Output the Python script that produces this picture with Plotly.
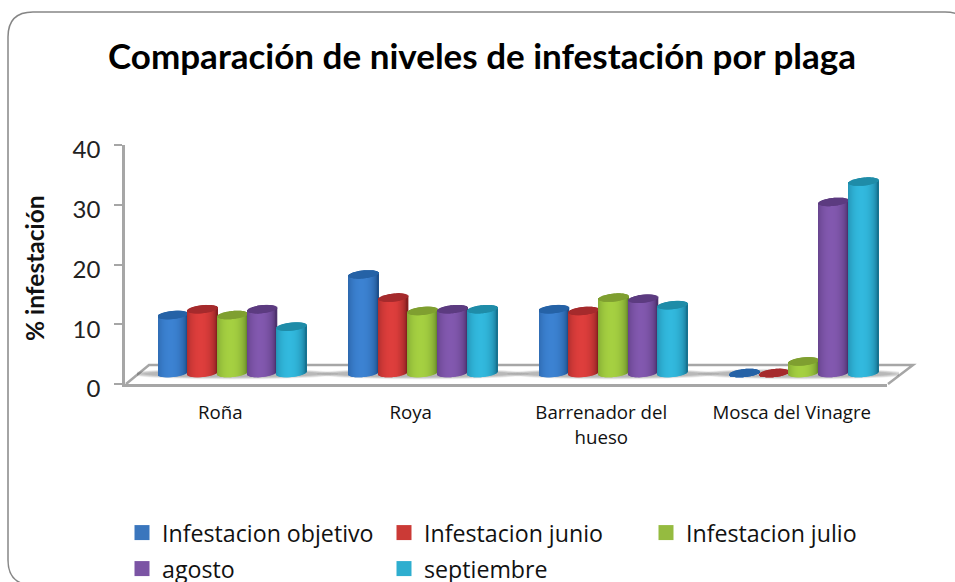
import math
import plotly.graph_objects as go

W, H = 955, 582
TITLE = "Comparación de niveles de infestación por plaga"
Y_TITLE = "% infestación"
CATEGORIES = ["Roña", "Roya", "Barrenador del<br>hueso", "Mosca del Vinagre"]
SERIES = ["Infestacion objetivo", "Infestacion junio", "Infestacion julio", "agosto", "septiembre"]
OBJETIVO = [10, 17, 11, 0]
JUNIO = [11, 13, 10.7, 0]
JULIO = [10, 10.7, 13, 2]
AGOSTO = [11, 11, 12.8, 29.5]
SEPTIEMBRE = [8, 11, 11.7, 33]
VALUES = [OBJETIVO, JUNIO, JULIO, AGOSTO, SEPTIEMBRE]
MID = ["#3a76bd", "#cb3a36", "#95bb40", "#7b54a4", "#2eaecf"]
CENTER = [(60, 130, 210), (222, 62, 60), (165, 208, 65), (130, 88, 175), (50, 185, 222)]
EDGE = [(30, 80, 140), (135, 32, 32), (105, 140, 42), (78, 50, 110), (22, 115, 145)]
CAP = ["#2562a6", "#a52a2c", "#7f9f30", "#5c3b80", "#1f8ca8"]

PX_UNIT = 5.8          # pixels per value on the bar axis
CAP_H = 4 / PX_UNIT    # half height of a cylinder's end ellipse
TILT = 1.5 / PX_UNIT   # slope of the ellipse
STEP = 29.7 / 190.5    # cylinder width in category units
N = 30


def px(x):
    return x / W


def py(y):
    return 1 - y / H


def rgb(c):
    return f"rgb({c[0]:.0f},{c[1]:.0f},{c[2]:.0f})"


fig = go.Figure()

# Cylinders are built out of narrow bars so that they carry horizontal shading.
for i, (name, vals) in enumerate(zip(SERIES, VALUES)):
    for k in range(N):
        t = -1 + (2 * k + 1) / N
        s = math.sqrt(1 - t * t)
        li = max(0.0, 1 - ((t + 0.1) / 1.05) ** 2) ** 0.6
        col = [EDGE[i][c] + (CENTER[i][c] - EDGE[i][c]) * li for c in range(3)]
        left = (i - 2.5) * STEP + (k / N) * STEP
        w = STEP / N * 1.5
        tilt = TILT * t
        fig.add_trace(go.Bar(
            x=[0, 1, 2, 3], y=[v + CAP_H * s for v in vals],
            base=-CAP_H * s + tilt, width=w, offset=left, xaxis="x2", yaxis="y2",
            marker=dict(color=rgb(col), line_width=0), name=name,
            showlegend=False, hoverinfo="skip"))
    for k in range(N):
        t = -1 + (2 * k + 1) / N
        s = math.sqrt(1 - t * t)
        left = (i - 2.5) * STEP + (k / N) * STEP
        w = STEP / N * 1.5
        tilt = TILT * t
        fig.add_trace(go.Bar(
            x=[0, 1, 2, 3], y=[2 * CAP_H * s] * 4,
            base=[v + tilt - CAP_H * s for v in vals], width=w, offset=left,
            xaxis="x2", yaxis="y2", marker=dict(color=CAP[i], line_width=0), name=name,
            showlegend=False, hoverinfo="skip"))

# Legend entries: two rows, each its own legend so the rows sit where they should.
for i, name in enumerate(SERIES):
    fig.add_trace(go.Scatter(
        x=[None], y=[None], mode="markers", name=name,
        marker=dict(symbol="square", size=15, color=MID[i]),
        legend="legend" if i < 3 else "legend2", showlegend=True))

shapes = [
    dict(type="path", xref="paper", yref="paper", layer="below",
         path=(f"M {px(8)} {py(37)} Q {px(8)} {py(12)} {px(33)} {py(12)} "
               f"L {px(945)} {py(12)} Q {px(970)} {py(12)} {px(970)} {py(37)} "
               f"L {px(970)} {py(560)} Q {px(970)} {py(585)} {px(945)} {py(585)} "
               f"L {px(33)} {py(585)} Q {px(8)} {py(585)} {px(8)} {py(560)} Z"),
         line=dict(color="#868686", width=1.5), fillcolor="white"),
    dict(type="path", xref="paper", yref="paper", layer="below",
         path=(f"M {px(126)} {py(384)} L {px(149)} {py(365)} L {px(913)} {py(365)} "
               f"L {px(888)} {py(384)}"),
         line=dict(color="#a6a6a6", width=2.5), fillcolor="white"),
]
# soft floor shadow under each group of cylinders
for c in range(4):
    for r in range(6):
        pad = (5 - r) * 0.018
        shapes.append(dict(
            type="circle", xref="x2", yref="y2", layer="below", line_width=0,
            fillcolor="black", opacity=0.05,
            x0=c - 3.0 * STEP - pad, x1=c + 3.0 * STEP + pad,
            y0=-1.1 + r * 0.08, y1=0.8 - r * 0.08))

LINE = "#a6a6a6"
LEG_FONT = dict(family="Open Sans", size=23.2, color="#111")
fig.update_layout(
    width=W, height=H, margin=dict(l=0, r=0, t=0, b=0, autoexpand=False), autosize=False,
    paper_bgcolor="white", plot_bgcolor="rgba(0,0,0,0)", barmode="overlay",
    font=dict(family="Lato", color="#111"),
    title=dict(text=f"<b>{TITLE}</b>", x=px(482), y=py(57), xanchor="center", yanchor="middle",
               xref="paper", yref="paper", font=dict(family="Lato", size=35, color="#000")),
    xaxis=dict(domain=[px(125), px(887)], range=[-0.5, 3.5], tickmode="array",
               tickvals=[0, 1, 2, 3], ticktext=CATEGORIES, ticks="", showgrid=False, zeroline=False,
               showline=True, linecolor=LINE, linewidth=2.5, anchor="y",
               tickfont=dict(family="Open Sans", size=18.7, color="#111"), ticklabelstandoff=10),
    yaxis=dict(domain=[py(384), py(145)], range=[0, 40], tickvals=[0, 10, 20, 30, 40], ticks="outside",
               ticklen=8, tickwidth=2, tickcolor=LINE, showgrid=False, zeroline=False,
               showline=True, linecolor=LINE, linewidth=2.5, anchor="x",
               tickfont=dict(family="Lato", size=24, color="#222"),
               ticklabelstandoff=9, ticklabelshift=5),
    xaxis2=dict(domain=[px(137), px(899)], range=[-0.5, 3.5], visible=False, anchor="y2"),
    yaxis2=dict(domain=[py(384), py(145)], range=[-11 / PX_UNIT, 228 / PX_UNIT], visible=False, anchor="x2"),
    legend=dict(orientation="h", x=px(122), y=py(533), xanchor="left", yanchor="middle",
                entrywidth=217, entrywidthmode="pixels", font=LEG_FONT,
                bgcolor="rgba(0,0,0,0)", itemclick=False, itemdoubleclick=False),
    legend2=dict(orientation="h", x=px(122), y=py(569), xanchor="left", yanchor="middle",
                 entrywidth=217, entrywidthmode="pixels", font=LEG_FONT,
                 bgcolor="rgba(0,0,0,0)", itemclick=False, itemdoubleclick=False),
    annotations=[dict(text=f"<b>{Y_TITLE}</b>", textangle=-90, xref="paper", yref="paper",
                      x=px(35), y=py(268), xanchor="center", yanchor="middle", showarrow=False,
                      font=dict(family="Lato", size=24.5, color="#111"))],
    shapes=shapes,
)

fig.write_html("out.html", post_script="document.body.style.margin='0';document.body.style.overflow='hidden';",
               config={"displayModeBar": False})
